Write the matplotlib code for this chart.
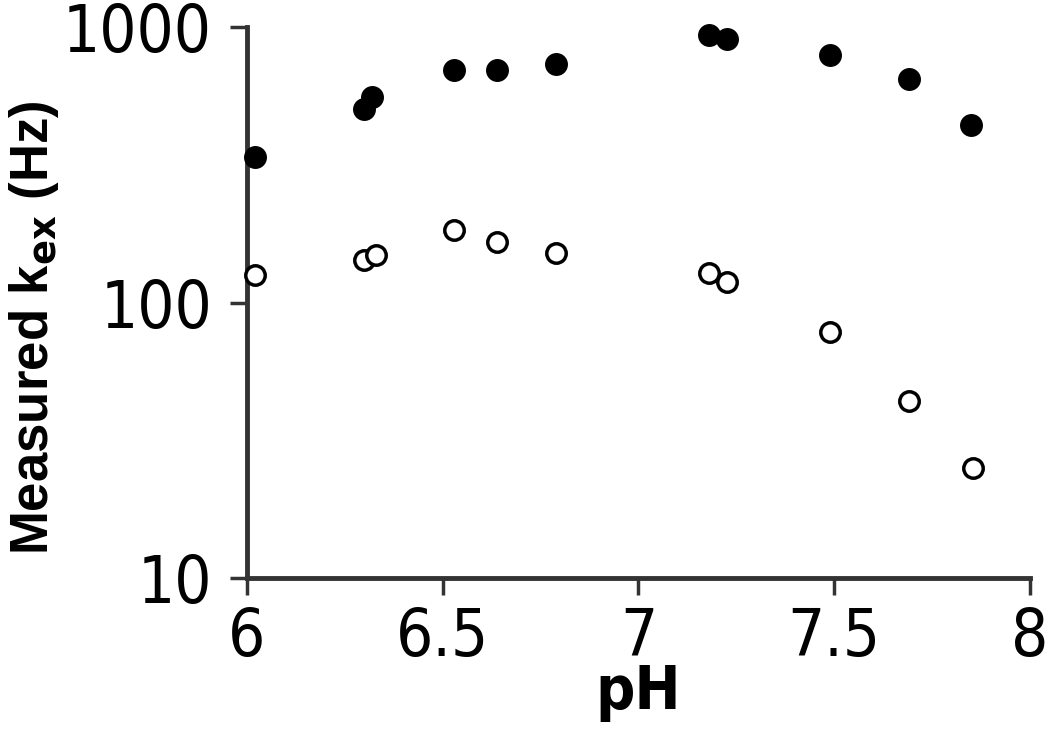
import matplotlib; matplotlib.use("Agg")
import matplotlib.pyplot as plt
from matplotlib import font_manager
from matplotlib.ticker import FixedLocator, FixedFormatter, NullLocator

# measured exchange rates
ph_filled = [6.02, 6.30, 6.32, 6.53, 6.64, 6.79, 7.18, 7.225, 7.49, 7.69, 7.85]
kex_filled = [337, 507, 558, 698, 702, 738, 935, 910, 791, 651, 441]
ph_open = [6.02, 6.30, 6.33, 6.53, 6.64, 6.79, 7.18, 7.225, 7.49, 7.69, 7.855]
kex_open = [126, 143, 149, 183, 166, 152, 128, 119, 78, 44, 25]

x_ticks = [6, 6.5, 7, 7.5, 8]
x_labels = ["6", "6.5", "7", "7.5", "8"]
y_ticks = [10, 100, 1000]
y_labels = ["10", "100", "1000"]

names = {f.name for f in font_manager.fontManager.ttflist}
tick_font = [n for n in ["Liberation Sans Narrow", "DejaVu Sans Condensed"] if n in names] + ["DejaVu Sans"]
label_font = ["Liberation Sans", "DejaVu Sans"]

fig = plt.figure(figsize=(10.5, 7.38), dpi=100)
ax = fig.add_axes([0.235, 0.217, 0.746, 0.746])

ax.plot(ph_filled, kex_filled, "o", color="black", markersize=15.5, clip_on=False, zorder=3)
ax.plot(ph_open, kex_open, "o", mfc="white", mec="black", mew=2.5, markersize=14,
        clip_on=False, zorder=3)

ax.set_yscale("log")
ax.set_xlim(6, 8); ax.set_ylim(10, 1000)
ax.xaxis.set_major_locator(FixedLocator(x_ticks))
ax.xaxis.set_major_formatter(FixedFormatter(x_labels))
ax.yaxis.set_major_locator(FixedLocator(y_ticks))
ax.yaxis.set_major_formatter(FixedFormatter(y_labels))
ax.yaxis.set_minor_locator(NullLocator())

for s in ["top", "right"]: ax.spines[s].set_visible(False)
for s in ["left", "bottom"]:
    ax.spines[s].set_linewidth(3.5); ax.spines[s].set_color("#333333")
ax.tick_params(axis="both", direction="out", length=12, width=2.5, color="#333333")
ax.tick_params(axis="y", pad=13)
ax.tick_params(axis="x", pad=8)
for lab in ax.get_xticklabels() + ax.get_yticklabels():
    lab.set_family(tick_font); lab.set_stretch("condensed"); lab.set_fontsize(47)

ax.set_xlabel("pH", fontsize=44, fontweight="bold", family=tick_font, fontstretch="condensed")
ax.xaxis.set_label_coords(0.5, -0.155)
ax.set_ylabel(r"Measured k$_{\mathbf{ex}}$ (Hz)", fontsize=38, fontweight="bold",
              family=label_font)
ax.yaxis.set_label_coords(-0.237, 0.455)

fig.savefig("out.png", dpi=100)
